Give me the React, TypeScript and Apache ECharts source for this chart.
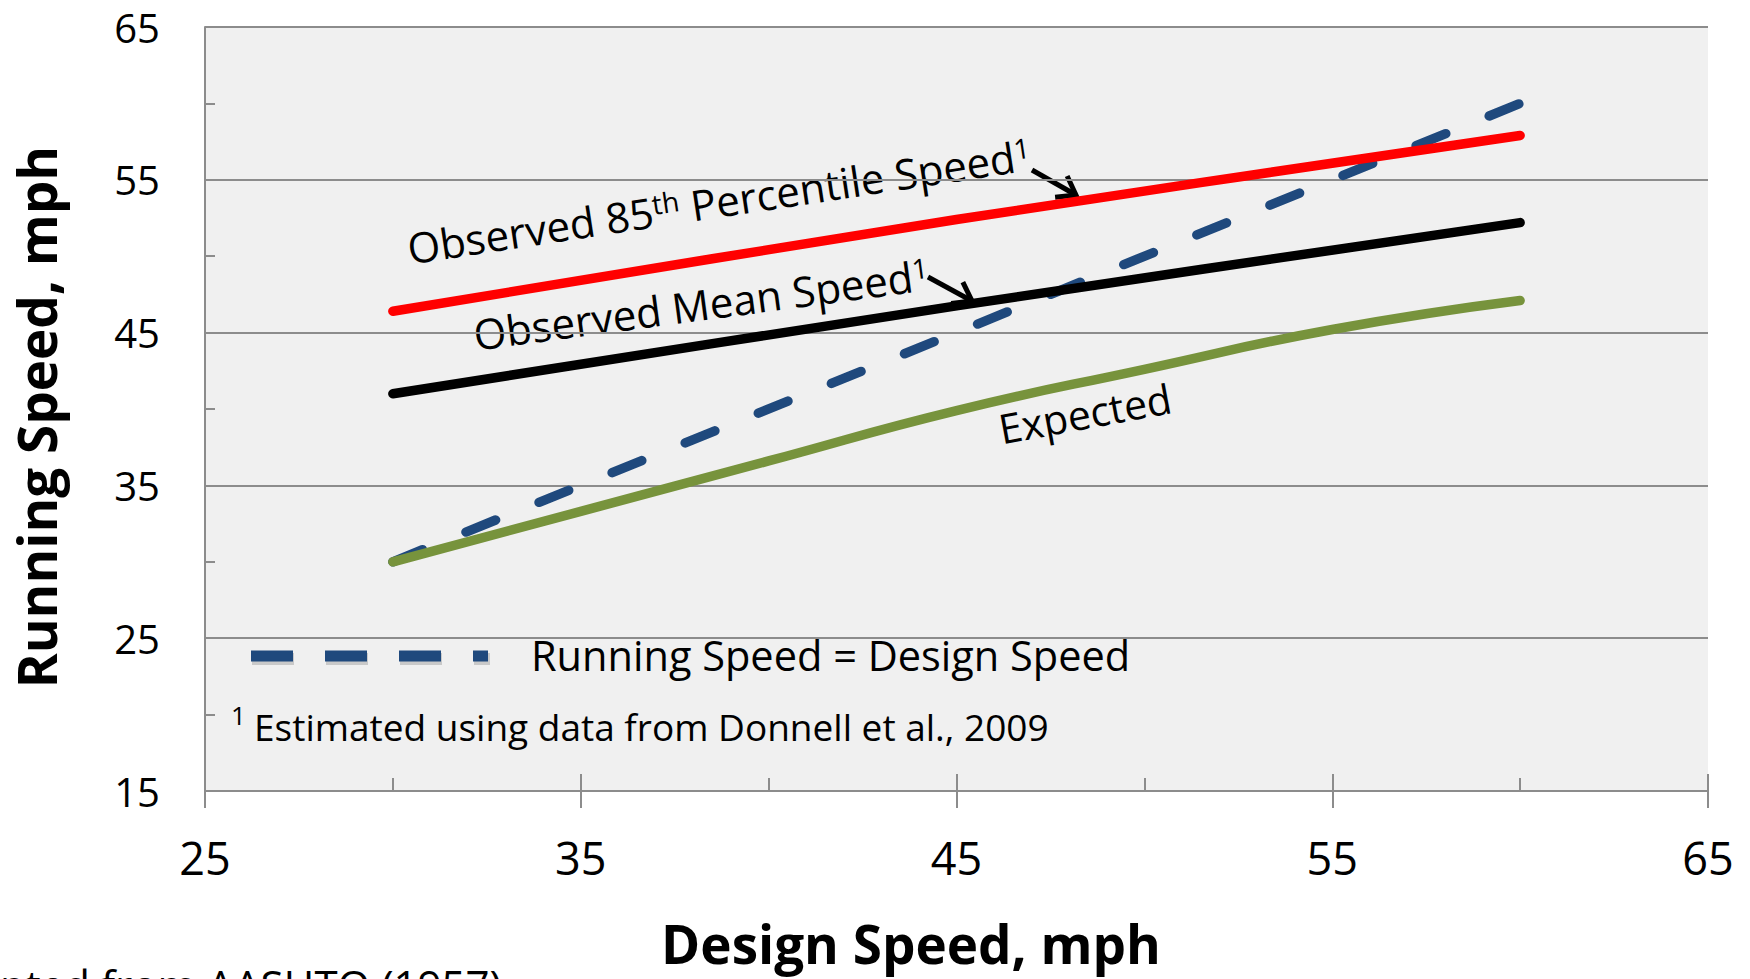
import React, { useEffect, useRef } from "react";
import * as echarts from "echarts";

// ---- data ----
const equalityX = [30, 60];
const equalityY = [30, 60];
const observed85X = [30, 45, 60];
const observed85Y = [46.4, 52.4, 57.9];
const observedMeanX = [30, 45, 60];
const observedMeanY = [41.0, 46.75, 52.2];
const expectedX = [30, 35, 40, 45, 50, 55, 60];
const expectedY = [30, 33.3, 36.6, 39.9, 42.6, 45.2, 47.1];
const xRange = [25, 65];
const yRange = [15, 65];
const tickStep = 10;

const legendLabel = "Running Speed = Design Speed";
const footnote = "Estimated using data from Donnell et al., 2009";
const xTitle = "Design Speed, mph";
const yTitle = "Running Speed, mph";
const sourceNote = "Adapted from AASHTO (1957)";

const FONT = "'Open Sans', 'Noto Sans', sans-serif";
const GRAY = "#8c8c8c";

function pairs(xs: number[], ys: number[]) {
  return xs.map((x, i) => [x, ys[i]]);
}

function arrow(x1: number, y1: number, x2: number, y2: number) {
  const a = Math.atan2(y2 - y1, x2 - x1);
  const head = 21;
  const spread = 0.62;
  const p1 = [x2 - head * Math.cos(a - spread), y2 - head * Math.sin(a - spread)];
  const p2 = [x2 - head * Math.cos(a + spread), y2 - head * Math.sin(a + spread)];
  return [
    { type: "line", silent: true, shape: { x1, y1, x2, y2 }, style: { stroke: "#000", lineWidth: 5 } },
    {
      type: "polyline",
      silent: true,
      shape: { points: [p1, [x2, y2], p2] },
      style: { stroke: "#000", lineWidth: 5, fill: null, lineJoin: "miter" },
    },
  ];
}

const deg = (d: number) => (d * Math.PI) / 180;

export default function App() {
  const ref = useRef<HTMLDivElement>(null);

  useEffect(() => {
    if (!ref.current) return;
    const chart = echarts.init(ref.current, undefined, { renderer: "svg" });

    const supStyle = { fontSize: 28, fontFamily: FONT, fill: "#000", verticalAlign: "top" };
    const mainStyle = { fontSize: 42, fontFamily: FONT, fill: "#000" };

    const option: any = {
      animation: false,
      backgroundColor: "#ffffff",
      grid: {
        left: 205,
        right: 42,
        top: 27,
        bottom: 188,
        show: true,
        backgroundColor: "#f0f0f0",
        borderWidth: 0,
      },
      xAxis: [
        {
          type: "value",
          min: xRange[0],
          max: xRange[1],
          interval: tickStep,
          position: "bottom",
          axisLine: { show: true, lineStyle: { color: GRAY, width: 2 } },
          axisTick: { show: true, inside: false, length: 17, lineStyle: { color: GRAY, width: 2 } },
          splitLine: { show: false },
          axisLabel: { fontSize: 45, fontFamily: FONT, color: "#000", margin: 44 },
        },
        {
          type: "value",
          min: xRange[0],
          max: xRange[1],
          interval: tickStep,
          position: "bottom",
          axisLine: { show: false },
          axisTick: { show: true, inside: true, length: 17, lineStyle: { color: GRAY, width: 2 } },
          minorTick: { show: true, splitNumber: 2, length: 13, lineStyle: { color: GRAY, width: 2 } },
          splitLine: { show: false },
          axisLabel: { show: false },
        },
      ],
      yAxis: {
        type: "value",
        min: yRange[0],
        max: yRange[1],
        interval: tickStep,
        axisLine: { show: true, lineStyle: { color: GRAY, width: 2 } },
        axisTick: { show: true, inside: true, length: 10, lineStyle: { color: GRAY, width: 2 } },
        minorTick: { show: true, splitNumber: 2, length: 10, lineStyle: { color: GRAY, width: 2 } },
        splitLine: { show: true, lineStyle: { color: GRAY, width: 2 } },
        axisLabel: { fontSize: 40, fontFamily: FONT, color: "#000", margin: 45 },
      },
      series: [
        {
          name: legendLabel,
          type: "line",
          xAxisIndex: 0,
          data: pairs(equalityX, equalityY),
          symbol: "none",
          silent: true,
          lineStyle: { color: "#1f497d", width: 9.5, type: [32, 46.9], cap: "round" },
        },
        {
          name: "Expected",
          type: "line",
          xAxisIndex: 0,
          data: pairs(expectedX, expectedY),
          symbol: "none",
          smooth: 0.5,
          silent: true,
          lineStyle: { color: "#77933c", width: 9.5, cap: "round" },
        },
        {
          name: "Observed Mean Speed",
          type: "line",
          xAxisIndex: 0,
          data: pairs(observedMeanX, observedMeanY),
          symbol: "none",
          smooth: 0.3,
          silent: true,
          lineStyle: { color: "#000000", width: 9.5, cap: "round" },
        },
        {
          name: "Observed 85th Percentile Speed",
          type: "line",
          xAxisIndex: 0,
          data: pairs(observed85X, observed85Y),
          symbol: "none",
          smooth: 0.3,
          silent: true,
          lineStyle: { color: "#ff0000", width: 9.5, cap: "round" },
        },
      ],
      graphic: [
        // legend sample (soft shadow imitation + dashed key)
        {
          type: "line",
          silent: true,
          shape: { x1: 252, y1: 659, x2: 490, y2: 659 },
          style: { stroke: "rgba(0,0,0,0.16)", lineWidth: 12, lineDash: [42, 32] },
        },
        {
          type: "line",
          silent: true,
          shape: { x1: 251, y1: 656, x2: 488, y2: 656 },
          style: { stroke: "#1f497d", lineWidth: 11, lineDash: [42, 32] },
        },
        {
          type: "text",
          silent: true,
          x: 531,
          y: 655,
          style: { text: legendLabel, fontSize: 41.5, fontFamily: FONT, fill: "#000", align: "left", verticalAlign: "middle" },
        },
        // footnote
        {
          type: "text",
          silent: true,
          x: 231,
          y: 715,
          style: { text: "1", fontSize: 26, fontFamily: FONT, fill: "#000", align: "left", verticalAlign: "middle" },
        },
        {
          type: "text",
          silent: true,
          x: 254,
          y: 726,
          style: { text: footnote, fontSize: 37, fontFamily: FONT, fill: "#000", align: "left", verticalAlign: "middle" },
        },
        // line labels
        {
          type: "text",
          silent: true,
          x: 719,
          y: 201,
          rotation: deg(8.6),
          style: {
            text: "{m|Observed 85}{s|th}{m| Percentile Speed}{s|1}",
            align: "center",
            verticalAlign: "middle",
            rich: { m: mainStyle, s: supStyle },
          },
        },
        {
          type: "text",
          silent: true,
          x: 701,
          y: 304,
          rotation: deg(7.6),
          style: {
            text: "{m|Observed Mean Speed}{s|1}",
            align: "center",
            verticalAlign: "middle",
            rich: { m: mainStyle, s: supStyle },
          },
        },
        {
          type: "text",
          silent: true,
          x: 1085,
          y: 413,
          rotation: deg(10.5),
          style: { text: "Expected", fontSize: 41, fontFamily: FONT, fill: "#000", align: "center", verticalAlign: "middle" },
        },
        ...arrow(1032, 170, 1076, 195),
        ...arrow(928, 277, 972, 301),
        // axis titles
        {
          type: "text",
          silent: true,
          x: 36,
          y: 417,
          rotation: Math.PI / 2,
          style: {
            text: yTitle,
            fontSize: 53,
            fontWeight: "bold",
            fontFamily: FONT,
            fill: "#000",
            align: "center",
            verticalAlign: "middle",
          },
        },
        {
          type: "text",
          silent: true,
          x: 911,
          y: 943,
          style: {
            text: xTitle,
            fontSize: 53,
            fontWeight: "bold",
            fontFamily: FONT,
            fill: "#000",
            align: "center",
            verticalAlign: "middle",
          },
        },
        {
          type: "text",
          silent: true,
          x: 502,
          y: 984,
          style: { text: sourceNote, fontSize: 42, fontFamily: FONT, fill: "#000", align: "right", verticalAlign: "middle" },
        },
      ],
    };

    chart.setOption(option);
    return () => {
      chart.dispose();
    };
  }, []);

  return (
    <div
      ref={ref}
      style={{ position: "fixed", left: 0, top: 0, width: 1750, height: 979, background: "#fff" }}
    />
  );
}
